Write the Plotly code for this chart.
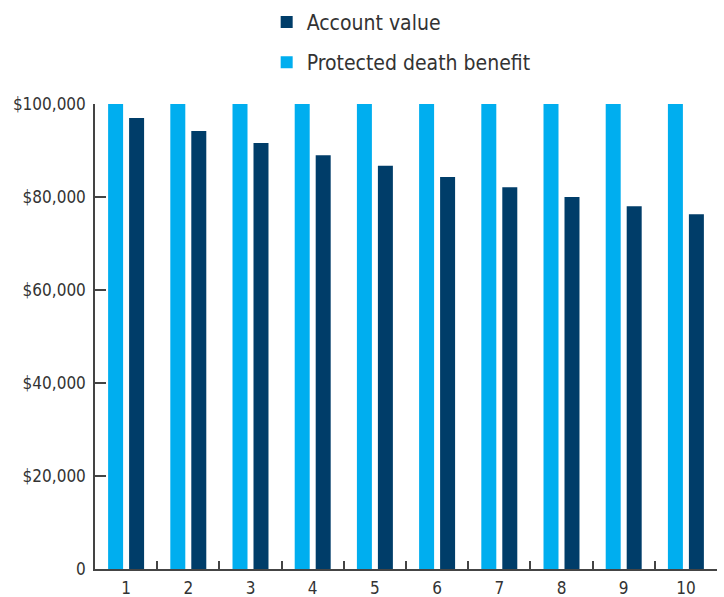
import plotly.graph_objects as go

years = ["1", "2", "3", "4", "5", "6", "7", "8", "9", "10"]
account_value = [97000, 94200, 91600, 89000, 86700, 84300, 82100, 80000, 78000, 76300]
death_benefit = [100000] * 10
y_ticks = [0, 20000, 40000, 60000, 80000, 100000]
y_tick_labels = ["0", "$20,000", "$40,000", "$60,000", "$80,000", "$100,000"]

FONT = "Liberation Sans Narrow, DejaVu Sans Condensed, Roboto, sans-serif"
TXT = "#333333"

fig = go.Figure()
fig.add_trace(go.Bar(x=years, y=death_benefit, name="Protected death benefit",
                     marker=dict(color="#00AEEF", line=dict(width=0)),
                     legendrank=2, legendgroup="b"))
fig.add_trace(go.Bar(x=years, y=account_value, name="Account value",
                     marker=dict(color="#003D69", line=dict(width=0)),
                     legendrank=1, legendgroup="a"))

fig.update_layout(
    width=724, height=597,
    margin=dict(l=95, r=7, t=104, b=28, autoexpand=False),
    paper_bgcolor="white", plot_bgcolor="white",
    barmode="group", bargap=0.325, bargroupgap=0.286,
    font=dict(family=FONT, color=TXT, size=17),
    showlegend=True,
    legend=dict(orientation="v", x=0.276, xanchor="left", y=1.2197, yanchor="top",
                font=dict(size=21, color=TXT), tracegroupgap=10,
                bgcolor="rgba(0,0,0,0)"),
    xaxis=dict(type="category", showline=True, linecolor="#444444", linewidth=1.5,
               ticks="inside", tickson="boundaries", ticklen=8, tickcolor="#444444",
               tickwidth=1.5, showgrid=False, zeroline=False, ticklabelstandoff=3,
               tickfont=dict(size=17, color=TXT)),
    yaxis=dict(range=[0, 100000], tickvals=y_ticks, ticktext=y_tick_labels,
               showline=True, linecolor="#444444", linewidth=1.5,
               ticks="inside", ticklen=11, tickcolor="#444444", tickwidth=1.5,
               showgrid=False, zeroline=False, ticklabelstandoff=4,
               tickfont=dict(size=17, color=TXT)),
)
fig.write_html("out.html")
